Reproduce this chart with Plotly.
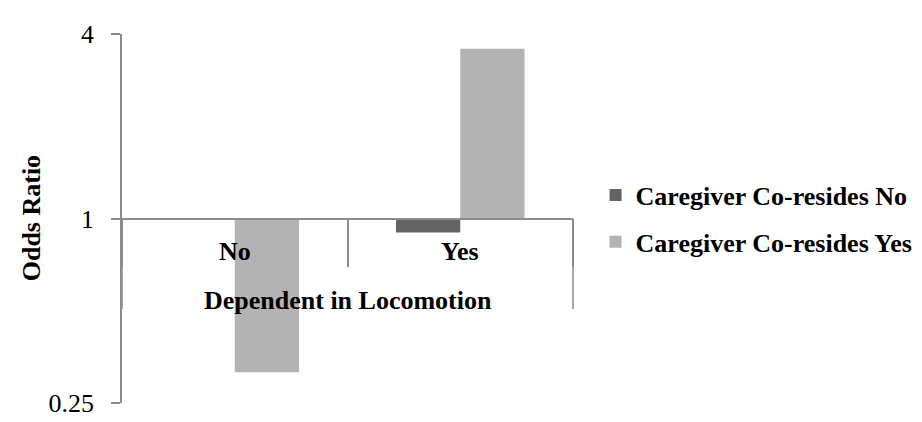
import plotly.graph_objects as go

categories = ["No", "Yes"]
co_resides_no = [1.0, 0.90]
co_resides_yes = [0.315, 3.58]
series_names = ["Caregiver Co-resides No", "Caregiver Co-resides Yes"]
series_colors = ["#646464", "#b3b3b3"]
y_tickvals = [0.25, 1, 4]
y_ticktext = ["0.25", "1", "4"]
baseline = 1.0

FONT = "Liberation Serif, Times New Roman, serif"
GRAY = "#8c8c8c"

fig = go.Figure()
for i, (name, vals) in enumerate(zip(series_names, [co_resides_no, co_resides_yes])):
    fig.add_trace(go.Bar(
        x=categories,
        y=[v - baseline for v in vals],
        base=[baseline] * len(vals),
        name=name,
        legendgroup=f"g{i}",
        marker=dict(color=series_colors[i], line=dict(width=0)),
    ))

fig.update_layout(
    width=922, height=422,
    margin=dict(l=114, r=352, t=22, b=16),
    paper_bgcolor="white", plot_bgcolor="white",
    barmode="group", bargap=0.43, bargroupgap=0,
    font=dict(family=FONT, size=26, color="black"),
    showlegend=True,
    legend=dict(
        x=1.05, xanchor="left", y=0.5, yanchor="middle",
        font=dict(family=FONT, size=26, color="black", weight="bold"),
        traceorder="grouped", tracegroupgap=10, itemwidth=30,
        bgcolor="rgba(0,0,0,0)",
    ),
    yaxis=dict(
        type="log", range=[-0.60206, 0.60206],
        tickvals=y_tickvals, ticktext=y_ticktext,
        showgrid=True, gridcolor=GRAY, gridwidth=1.5,
        showline=True, linecolor=GRAY, linewidth=1.5,
        ticks="outside", ticklen=9, tickcolor=GRAY, tickwidth=1.5,
        ticklabelstandoff=12,
        tickfont=dict(family=FONT, size=26, color="black"),
        zeroline=False, fixedrange=True,
    ),
    xaxis=dict(
        type="category", range=[-0.5, 1.5],
        anchor="free", position=0.5,
        showline=True, linecolor=GRAY, linewidth=1.5,
        ticks="outside", tickson="boundaries", ticklen=48,
        tickcolor=GRAY, tickwidth=1.5,
        showticklabels=False, showgrid=False, zeroline=False,
    ),
)

for c in categories:
    fig.add_annotation(x=c, xref="x", y=0.5, yref="paper", yshift=-33,
                       text=c, showarrow=False, yanchor="middle",
                       font=dict(family=FONT, size=26, color="black", weight="bold"))

fig.add_annotation(x=0.5, xref="paper", y=0.5, yref="paper", yshift=-82,
                   text="Dependent in Locomotion", showarrow=False, yanchor="middle",
                   font=dict(family=FONT, size=26, color="black", weight="bold"))

fig.add_annotation(x=-0.2, xref="paper", y=0.5, yref="paper",
                   text="Odds Ratio", textangle=-90, showarrow=False,
                   xanchor="center", yanchor="middle",
                   font=dict(family=FONT, size=26, color="black", weight="bold"))

for xp in [0, 1]:
    fig.add_shape(type="line", xref="paper", yref="paper",
                  x0=xp, x1=xp, y0=0.5, y1=0.255,
                  line=dict(color=GRAY, width=1.5))

fig.write_html("out.html")
